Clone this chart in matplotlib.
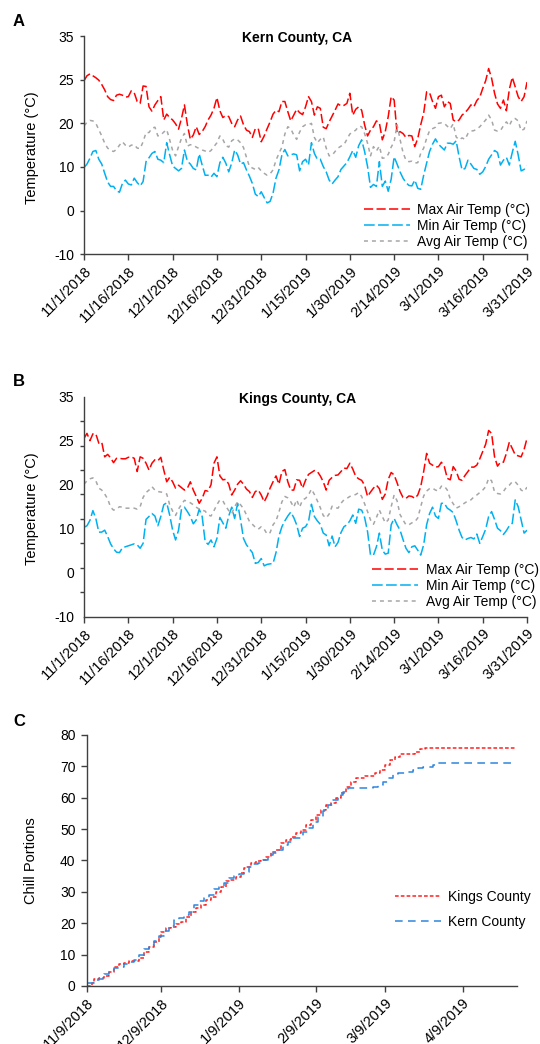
import numpy as np
import pandas as pd
import matplotlib
matplotlib.use('Agg')
import matplotlib.pyplot as plt

plt.rcParams['font.family'] = ['Liberation Sans', 'DejaVu Sans']
plt.rcParams['font.size'] = 10

# daily dates for panels A and B
days = pd.date_range('2018-11-01', '2019-03-31', freq='D')
temp_tick_labels = ['35', '25', '20', '10', '0', '-10']

# Kern County daily temperatures
kern_max = [25.8, 26.8, 27.2, 26.8, 26.4, 25.9, 25.0, 23.9, 22.5, 21.9,
            21.7, 22.8, 23.0, 22.8, 22.4, 22.5, 23.7, 23.3, 21.5, 21.1,
            24.7, 24.6, 20.4, 19.5, 20.8, 21.7, 22.5, 17.7, 18.9, 18.2,
            17.7, 16.9, 15.8, 18.0, 20.8, 16.7, 13.7, 14.6, 16.3, 14.7,
            15.3, 16.3, 17.7, 18.7, 20.1, 22.3, 19.6, 18.2, 18.6, 18.4,
            17.0, 16.3, 17.7, 18.5, 16.7, 15.6, 15.3, 14.1, 15.9, 15.9,
            13.2, 14.4, 15.9, 17.3, 18.9, 19.7, 19.4, 21.5, 21.5, 19.4,
            17.5, 18.7, 19.9,
            19.2, 18.8, 20.4, 22.5, 21.5, 18.7, 20.4, 20.1, 16.2, 15.9,
            17.3, 18.5, 19.7, 21.0, 20.6, 20.7, 21.1, 23.2, 18.7, 19.9,
            20.4, 19.7, 16.7, 14.4, 15.6, 16.3, 17.5, 17.1, 13.6, 15.3,
            18.4, 22.5, 21.8, 14.9, 15.3, 14.9, 14.1, 14.5, 14.4, 12.2,
            13.9, 16.7, 19.1, 23.5, 23.3, 21.5, 20.1, 22.5, 22.8, 20.4,
            21.5, 21.1, 17.7, 17.3, 17.7, 18.7, 19.2, 19.9, 20.8, 20.4,
            21.7, 22.4, 24.2, 25.8, 28.3, 26.3, 23.2, 21.0, 20.1, 21.8,
            19.6, 24.0, 26.5, 24.5, 22.5, 21.5, 22.5, 25.5]
kern_min = [7.9, 8.6, 9.8, 11.2, 11.4, 9.6, 8.6, 6.7, 4.9, 4.0,
            4.0, 3.1, 2.8, 4.6, 5.3, 4.5, 4.3, 5.7, 4.8, 4.1,
            5.0, 9.1, 9.9, 10.8, 11.2, 9.6, 9.4, 8.9, 13.0, 10.5,
            8.2, 7.7, 7.2, 7.7, 11.5, 9.2, 8.6, 7.7, 7.4, 10.7,
            8.4, 6.3, 6.3, 5.9, 6.7, 6.0, 8.9, 10.0, 8.8, 7.0,
            8.8, 11.5, 10.5, 8.6, 8.9, 7.4, 6.1, 4.6, 2.4, 1.9,
            2.9, 1.7, 0.6, 0.9, 2.6, 5.7, 7.4, 10.5, 11.6, 10.3,
            10.5, 10.7, 10.5,
            7.2, 9.1, 9.6, 8.4, 13.0, 10.8, 9.6, 9.6, 8.1, 7.0,
            5.3, 4.5, 5.3, 6.0, 7.5, 8.2, 8.9, 10.1, 11.4, 10.0,
            12.4, 13.6, 11.2, 8.1, 3.8, 4.4, 4.0, 9.1, 4.0, 5.1,
            3.0, 5.5, 10.1, 8.6, 7.0, 5.7, 4.8, 4.2, 4.1, 5.3,
            3.6, 3.4, 6.3, 8.8, 11.2, 12.7, 13.8, 12.7, 12.1, 11.5,
            12.9, 12.9, 12.7, 13.4, 10.1, 7.4, 7.7, 9.4, 8.6, 7.7,
            7.5, 6.5, 7.0, 8.1, 9.6, 10.5, 11.4, 11.0, 8.4, 9.4,
            10.0, 8.4, 11.0, 13.3, 10.5, 7.2, 7.5, 8.2]
kern_avg = [16.5, 17.2, 17.6, 17.5, 17.0, 15.7, 14.4, 12.9, 11.9, 11.4,
            11.2, 11.6, 12.5, 13.2, 12.5, 12.1, 12.5, 12.6, 11.9, 11.8,
            13.2, 15.1, 15.1, 16.0, 16.2, 14.4, 14.6, 15.2, 15.7, 13.6,
            11.4, 10.3, 12.2, 13.9, 14.9, 12.3, 12.6, 12.5, 12.1, 11.8,
            11.5, 11.3, 11.0, 11.4, 12.2, 13.0, 14.4, 13.7, 12.4, 12.1,
            13.4, 13.8, 13.6, 13.0, 12.0, 10.0, 8.1, 7.8, 7.5, 7.9,
            7.2, 6.7, 6.3, 6.6, 7.4, 9.4, 10.8, 12.1, 14.8, 16.3,
            15.9, 14.6, 13.7,
            15.2, 16.3, 16.7, 16.7, 17.0, 14.1, 13.0, 13.7, 14.2, 11.9,
            10.3, 10.4, 11.2, 11.9, 12.3, 12.6, 13.7, 14.8, 15.2, 15.6,
            16.4, 16.3, 14.9, 12.9, 10.3, 12.2, 11.3, 12.3, 9.8, 9.9,
            10.6, 12.1, 13.2, 16.7, 13.7, 11.0, 9.4, 9.1, 9.2, 8.8,
            8.9, 10.8, 11.9, 13.9, 15.5, 15.9, 16.2, 17.0, 17.1, 17.0,
            16.4, 15.9, 16.9, 14.2, 13.6, 14.0, 13.7, 14.9, 15.4, 15.5,
            15.8, 16.3, 17.0, 17.7, 18.7, 17.7, 15.6, 15.4, 15.5, 16.5,
            17.3, 16.5, 17.8, 18.0, 17.5, 15.5, 15.8, 17.5]

# Kings County daily temperatures
kings_max = [26.5, 27.5, 26.0, 27.4, 27.4, 25.5, 25.7, 22.7, 23.2, 22.5,
             21.5, 22.4, 22.4, 22.3, 22.3, 22.6, 22.7, 22.4, 19.7, 22.7,
             22.4, 21.4, 20.0, 21.4, 22.1, 21.9, 22.6, 20.0, 17.6, 18.5,
             17.6, 16.3, 16.9, 16.4, 15.9, 16.3, 17.6, 15.9, 14.6, 13.2,
             14.2, 15.8, 15.7, 17.0, 21.4, 22.7, 18.8, 18.0, 18.1, 17.1,
             14.9, 15.9, 17.1, 17.8, 17.1, 16.1, 15.6, 14.4, 15.6, 15.9,
             14.9, 13.5, 14.7, 16.3, 17.6, 18.8, 17.1, 19.7, 20.1, 17.6,
             15.9, 15.9, 18.0,
             17.9, 16.3, 17.9, 19.1, 19.5, 19.9, 19.7, 18.8, 17.6, 15.9,
             17.9, 18.5, 18.9, 19.0, 19.7, 20.4, 20.3, 21.4, 20.2, 18.7,
             18.2, 17.9, 16.9, 14.6, 15.5, 16.3, 16.9, 16.2, 14.0, 15.1,
             18.1, 19.5, 19.0, 17.4, 15.6, 14.4, 14.2, 14.7, 14.6, 14.2,
             14.9, 16.6, 19.7, 23.4, 21.4, 21.0, 20.6, 20.7, 21.6, 20.7,
             18.3, 18.0, 20.7, 19.8, 18.1, 17.9, 18.9, 19.7, 20.6, 20.6,
             21.0, 22.3, 23.8, 25.3, 28.1, 27.5, 22.7, 20.8, 21.6, 21.6,
             23.4, 25.7, 24.4, 23.1, 22.9, 22.7, 24.2, 26.5]
kings_min = [8.3, 8.6, 9.7, 11.7, 10.1, 7.3, 7.3, 7.7, 6.4, 4.9,
             3.9, 3.2, 3.1, 4.1, 4.3, 4.5, 4.7, 4.9, 4.7, 4.0,
             5.0, 9.9, 10.5, 11.1, 10.6, 8.6, 10.5, 12.9, 13.3, 10.8,
             7.7, 5.7, 7.7, 12.0, 12.4, 11.5, 10.5, 9.0, 9.8, 12.0,
             10.5, 5.4, 4.8, 5.7, 4.3, 6.0, 10.3, 9.2, 8.1, 10.6,
             12.4, 10.1, 13.2, 9.8, 6.0, 4.7, 3.9, 3.1, 0.9, 1.1,
             1.9, 0.4, 0.7, 0.8, 0.9, 3.1, 6.5, 8.4, 9.6, 10.6,
             11.4, 10.3, 8.8,
             6.4, 8.1, 8.4, 9.4, 13.0, 10.5, 9.6, 8.9, 7.1, 6.7,
             4.5, 6.5, 4.3, 5.2, 7.2, 8.4, 8.8, 9.6, 10.8, 9.1,
             12.0, 11.8, 10.3, 7.4, 2.6, 2.6, 4.3, 7.1, 3.6, 2.8,
             3.0, 8.8, 10.1, 8.8, 7.7, 5.8, 4.0, 3.1, 4.3, 4.5,
             3.6, 2.6, 4.7, 8.8, 11.1, 12.4, 10.6, 10.1, 13.2, 13.2,
             12.2, 11.8, 11.3, 9.6, 7.7, 6.2, 5.7, 6.0, 6.2, 5.9,
             6.9, 5.0, 6.4, 7.9, 10.5, 11.5, 9.9, 8.1, 7.6, 6.8,
             7.6, 8.6, 9.1, 13.9, 12.5, 9.8, 7.1, 7.7]
kings_avg = [17.1, 17.8, 18.2, 18.4, 17.8, 16.3, 15.9, 15.1, 14.1, 12.4,
             11.8, 12.0, 12.5, 12.4, 12.2, 12.2, 12.2, 12.2, 12.0, 12.5,
             14.4, 15.4, 15.9, 16.6, 15.9, 15.6, 15.5, 15.4, 15.1, 12.9,
             11.6, 10.7, 12.0, 13.0, 13.8, 13.6, 13.3, 12.9, 12.4, 12.0,
             11.8, 11.6, 10.8, 10.6, 11.7, 12.9, 13.9, 13.7, 12.6, 11.7,
             11.1, 12.5, 13.5, 12.9, 12.1, 10.8, 9.5, 8.9, 8.3, 7.9,
             8.4, 7.9, 6.9, 7.2, 8.8, 9.6, 11.4, 13.5, 14.6, 14.3,
             13.5, 12.4, 13.9,
             12.4, 13.9, 14.2, 14.9, 16.1, 15.0, 13.7, 12.3, 10.7, 10.2,
             11.0, 12.6, 12.3, 12.2, 13.2, 13.9, 14.2, 14.6, 14.8, 15.0,
             15.4, 14.6, 13.1, 11.5, 9.8, 8.9, 10.3, 11.8, 10.5, 9.2,
             9.8, 12.5, 14.9, 13.7, 10.9, 9.8, 8.8, 8.8, 9.2, 9.4,
             10.2, 12.5, 14.7, 15.7, 16.2, 16.3, 15.9, 15.7, 16.7, 16.7,
             15.9, 14.1, 13.1, 12.2, 12.5, 12.9, 13.3, 13.7, 13.9, 14.5,
             14.9, 15.4, 15.9, 16.6, 18.3, 17.8, 15.5, 15.2, 15.1, 15.6,
             16.5, 16.9, 17.6, 17.6, 16.9, 15.9, 15.6, 16.5]

# Panel C: cumulative chill portions, day offsets from 11/9/2018
chill_start = pd.Timestamp('2018-11-09')
kings_cp_day = [0, 2, 3, 5, 7, 9, 11, 13, 15, 17, 19, 21, 23, 25, 27, 29, 30, 32, 34, 36,
                38, 40, 42, 44, 46, 48, 50, 52, 54, 56, 58, 60, 62, 63, 64, 66, 68, 70, 72, 74,
                76, 78, 80, 82, 84, 86, 88, 90, 92, 94, 96, 98, 100, 102, 104, 106, 108, 110, 112, 114,
                116, 118, 120, 122, 124, 126, 128, 130, 132, 134, 136, 172]
kings_cp = [0.0, 1.0, 2.2, 2.4, 3.3, 4.6, 6.2, 6.9, 7.2, 7.8, 7.9, 8.8, 10.9, 12.5, 14.1, 15.7, 17.3, 18.4, 18.9, 19.6,
            20.5, 22.1, 23.7, 25.0, 25.8, 27.4, 28.5, 30.1, 31.7, 33.3, 33.8, 34.8, 35.9, 37.7, 38.0, 39.1, 39.8, 40.2, 41.2, 42.8,
            43.3, 45.5, 46.5, 47.6, 48.6, 49.7, 51.3, 52.9, 54.5, 56.1, 57.7, 58.2, 59.8, 61.4, 63.5, 64.9, 66.2, 66.4, 67.0, 67.0,
            67.8, 68.8, 70.4, 72.0, 73.1, 73.9, 73.9, 73.9, 74.7, 75.4, 76.0, 76.0]
kern_cp_day = [0, 2, 3, 5, 7, 9, 11, 13, 15, 17, 19, 21, 23, 25, 27, 29, 31, 33, 35, 37,
               39, 41, 43, 45, 47, 49, 51, 53, 55, 57, 59, 61, 63, 65, 67, 69, 71, 73, 75, 77,
               79, 81, 83, 85, 87, 89, 91, 93, 95, 97, 99, 101, 103, 105, 107, 111, 115, 117, 119, 121,
               123, 125, 127, 129, 131, 133, 135, 137, 139, 141, 172]
kern_cp = [0.8, 0.8, 1.9, 2.2, 3.7, 5.1, 5.8, 6.2, 6.9, 7.5, 8.3, 9.9, 11.8, 13.1, 14.3, 16.0, 17.5, 19.2, 21.0, 21.8,
           22.6, 23.7, 25.8, 27.1, 27.9, 29.0, 30.9, 31.7, 32.7, 34.3, 35.2, 35.6, 36.4, 38.0, 38.8, 39.1, 40.2, 41.8, 42.3, 43.3,
           44.9, 46.0, 47.1, 47.1, 49.2, 50.3, 52.2, 54.0, 55.8, 57.7, 59.3, 60.9, 61.9, 63.0, 63.2, 63.2, 63.5, 63.9, 64.9, 66.2,
           67.5, 67.8, 67.8, 68.3, 68.8, 69.6, 69.9, 69.9, 70.4, 71.0, 71.0]

AXIS_COL = '#404040'


def style_axes(ax):
    for s in ['top', 'right']:
        ax.spines[s].set_visible(False)
    for s in ['left', 'bottom']:
        ax.spines[s].set_color(AXIS_COL)
        ax.spines[s].set_linewidth(1.0)
    ax.tick_params(which='both', direction='out', color=AXIS_COL, width=1.0)
    ax.tick_params(axis='y', labelsize=10)


def date_label(d):
    return f"{d.month}/{d.day}/{d.year}"


def temp_panel(ax, tmax, tmin, tavg, title, leg_top, leg_left, minor):
    ax.plot(days, tmax, color='#FF0000', lw=1.1, dashes=(6, 2.2), label='Max Air Temp (°C)')
    ax.plot(days, tmin, color='#00B0F0', lw=1.1, dashes=(7, 2.2), label='Min Air Temp (°C)')
    ax.plot(days, tavg, color='#A6A6A6', lw=1.1, dashes=(2.6, 2.6), label='Avg Air Temp (°C)')
    ax.set_xlim(days[0], days[-1])
    ax.set_ylim(-10, 35)
    ax.set_yticks(np.linspace(35, -10, 6))
    ax.set_yticklabels(temp_tick_labels)
    if minor:
        ax.set_yticks(np.arange(-10, 36, 5), minor=True)
        ax.tick_params(axis='y', which='major', length=0, pad=7)
        ax.tick_params(axis='y', which='minor', length=3)
    else:
        ax.tick_params(axis='y', which='major', length=3, pad=4)
    xt = days[::15]
    ax.set_xticks(xt)
    ax.set_xticklabels([date_label(d) for d in xt], rotation=45, ha='right',
                       rotation_mode='anchor', fontsize=10.5)
    ax.tick_params(axis='x', length=4, pad=3)
    style_axes(ax)
    ax.set_ylabel('Temperature (°C)', fontsize=10.5)
    ax.yaxis.set_label_coords(-0.102, 0.49)
    ax.text(0.481, 0.99, title, transform=ax.transAxes, ha='center', va='center',
            fontweight='bold', fontsize=10)
    ax.legend(loc='upper left', bbox_to_anchor=(leg_left, leg_top),
              bbox_transform=fig.transFigure, frameon=False, fontsize=10,
              handlelength=3.3, handletextpad=0.55, labelspacing=0.15,
              borderpad=0, borderaxespad=0)


fig = plt.figure(figsize=(5.4, 10.44), dpi=100)

ax_a = fig.add_axes([0.1556, 0.7564, 0.8204, 0.2091])
temp_panel(ax_a, kern_max, kern_min, kern_avg, 'Kern County, CA', 0.8056, 0.674, False)

ax_b = fig.add_axes([0.1556, 0.4093, 0.8204, 0.2107])
temp_panel(ax_b, kings_max, kings_min, kings_avg, 'Kings County, CA', 0.4607, 0.689, True)

ax_c = fig.add_axes([0.1606, 0.0556, 0.7974, 0.2404])
kings_dates = chill_start + pd.to_timedelta(kings_cp_day, unit='D')
kern_dates = chill_start + pd.to_timedelta(kern_cp_day, unit='D')
ax_c.plot(kings_dates, kings_cp, color='#FF2020', lw=1.1, dashes=(2.4, 1.4),
          drawstyle='steps-post', label='Kings County')
ax_c.plot(kern_dates, kern_cp, color='#2E86DE', lw=1.1, dashes=(5, 3.5),
          drawstyle='steps-post', label='Kern County')
ax_c.set_xlim(chill_start, pd.Timestamp('2019-05-01'))
ax_c.set_ylim(0, 80)
ax_c.set_yticks(np.arange(0, 81, 10))
ct = pd.to_datetime(['2018-11-09', '2018-12-09', '2019-01-09', '2019-02-09',
                     '2019-03-09', '2019-04-09'])
ax_c.set_xticks(ct)
ax_c.set_xticklabels([date_label(d) for d in ct], rotation=45, ha='right',
                     rotation_mode='anchor', fontsize=10.5)
ax_c.tick_params(axis='x', length=4, pad=3)
ax_c.tick_params(axis='y', length=4, pad=4)
style_axes(ax_c)
ax_c.set_ylabel('Chill Portions', fontsize=10.5)
ax_c.yaxis.set_label_coords(-0.113, 0.5)
ax_c.legend(loc='upper left', bbox_to_anchor=(0.731, 0.1475),
            bbox_transform=fig.transFigure, frameon=False, fontsize=10,
            handlelength=3.3, handletextpad=0.55, labelspacing=0.8,
            borderpad=0, borderaxespad=0)

# panel letters
for letter, y in [('A', 21), ('B', 382), ('C', 721)]:
    fig.text(19 / 540, 1 - y / 1044, letter, ha='center', va='center',
             fontsize=12, fontweight='bold')

fig.savefig('out.png', dpi=100)
